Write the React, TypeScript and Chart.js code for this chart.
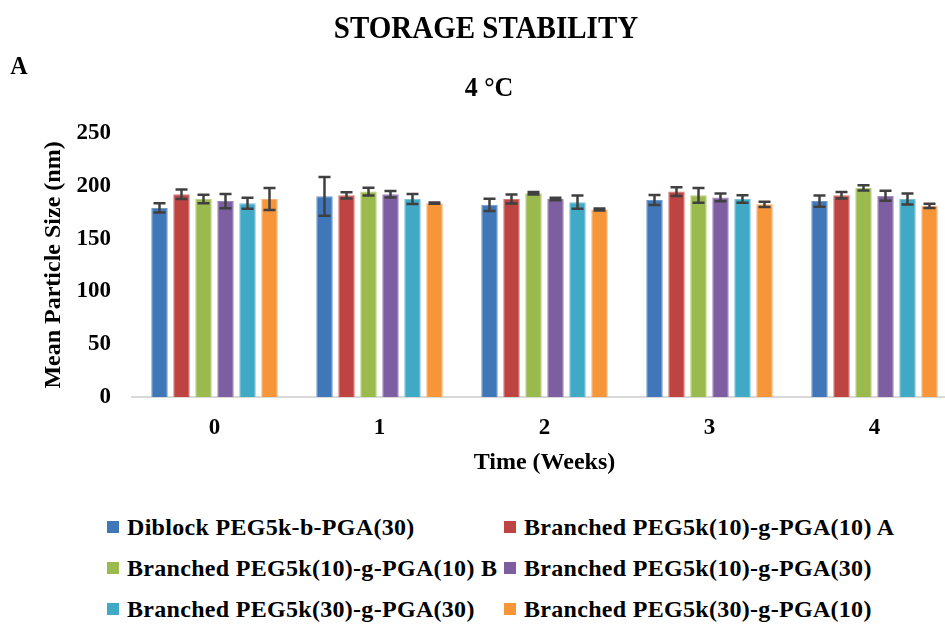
import React, { useEffect, useRef } from "react";
import { Chart, registerables } from "chart.js";

Chart.register(...registerables);

const weeks = ["0", "1", "2", "3", "4"];

const seriesNames = [
  "Diblock PEG5k-b-PGA(30)",
  "Branched PEG5k(10)-g-PGA(10) A",
  "Branched PEG5k(10)-g-PGA(10) B",
  "Branched PEG5k(10)-g-PGA(30)",
  "Branched PEG5k(30)-g-PGA(30)",
  "Branched PEG5k(30)-g-PGA(10)",
];

const diblock30 = [179, 190, 182, 186.5, 185.5];
const branched1010A = [192, 191, 187.5, 194.5, 191];
const branched1010B = [187.5, 194.5, 193, 191, 198];
const branched1030 = [185.5, 192, 187.5, 189, 190.5];
const branched3030 = [183.5, 187.5, 184.5, 187.5, 187.5];
const branched3010 = [187.5, 183.5, 177.5, 182.5, 181];

const diblock30Err = [4.4, 18.4, 5.8, 4.7, 5.3];
const branched1010AErr = [4.5, 3, 4.2, 4.2, 3.1];
const branched1010BErr = [4, 3.6, 1.2, 7, 2.5];
const branched1030Err = [6.8, 3, 1.2, 3.6, 4.7];
const branched3030Err = [5.2, 4.7, 6.3, 3.6, 5.2];
const branched3010Err = [10.4, 0.6, 1, 2.5, 2];

const yTicks = [0, 50, 100, 150, 200, 250];

const values = [diblock30, branched1010A, branched1010B, branched1030, branched3030, branched3010];
const errors = [diblock30Err, branched1010AErr, branched1010BErr, branched1030Err, branched3030Err, branched3010Err];

const colors = ["#4077B9", "#BE4441", "#9BBA4E", "#7D5EA0", "#40A9C6", "#F79539"];
const borders = ["#6F9AD0", "#D67572", "#B7D07F", "#A088BF", "#76C3D8", "#FBB274"];

const FONT = "'Liberation Serif', 'Times New Roman', serif";

const errorBarPlugin = {
  id: "errorBars",
  afterDatasetsDraw(chart: any) {
    const ctx = chart.ctx;
    const yScale = chart.scales.y;
    ctx.save();
    ctx.strokeStyle = "#404040";
    ctx.lineWidth = 2.5;
    chart.data.datasets.forEach((_ds: any, di: number) => {
      const meta = chart.getDatasetMeta(di);
      meta.data.forEach((bar: any, i: number) => {
        const v = values[di][i];
        const e = errors[di][i];
        const yTop = yScale.getPixelForValue(v + e);
        const yBot = yScale.getPixelForValue(v - e);
        const x = bar.x;
        const cap = 6;
        ctx.beginPath();
        ctx.moveTo(x, yTop);
        ctx.lineTo(x, yBot);
        ctx.moveTo(x - cap, yTop);
        ctx.lineTo(x + cap, yTop);
        ctx.moveTo(x - cap, yBot);
        ctx.lineTo(x + cap, yBot);
        ctx.stroke();
      });
    });
    ctx.restore();
  },
};

const textStyle = (left: number, top: number, size: number): React.CSSProperties => ({
  position: "absolute",
  left,
  top,
  transform: "translate(-50%, -50%) scaleY(1.08)",
  fontFamily: FONT,
  fontWeight: "bold",
  fontSize: size,
  lineHeight: 1,
  whiteSpace: "nowrap",
  color: "#000",
});

export default function App() {
  const canvasRef = useRef<HTMLCanvasElement | null>(null);

  useEffect(() => {
    const canvas = canvasRef.current;
    if (!canvas) return;
    const tickFont = { family: FONT, size: 23, weight: "bold" as const };
    const titleFont = { family: FONT, size: 24, weight: "bold" as const };
    const chart = new Chart(canvas, {
      type: "bar",
      data: {
        labels: weeks,
        datasets: seriesNames.map((name, i) => ({
          label: name,
          data: values[i],
          backgroundColor: colors[i],
          borderColor: borders[i],
          borderWidth: 1,
          barPercentage: 0.75,
          categoryPercentage: 0.8,
        })),
      },
      options: {
        responsive: false,
        maintainAspectRatio: false,
        animation: false,
        layout: { padding: { left: 0, right: 43, top: 133, bottom: 0 } },
        plugins: {
          legend: { display: false },
          tooltip: { enabled: false },
          title: { display: false },
        },
        scales: {
          x: {
            grid: { display: false, drawTicks: false },
            border: { display: true, color: "#D9D9D9", width: 2 },
            ticks: { padding: 17, font: tickFont, color: "#000" },
            title: {
              display: true,
              text: "Time (Weeks)",
              font: titleFont,
              color: "#000",
              padding: { top: 0, bottom: 13 },
            },
            afterFit: (s: any) => {
              s.height = 93;
            },
          },
          y: {
            min: 0,
            max: 250,
            afterBuildTicks: (s: any) => {
              s.ticks = yTicks.map((v) => ({ value: v }));
            },
            ticks: { padding: 21, font: tickFont, color: "#000" },
            grid: { display: false, drawTicks: false },
            border: { display: false },
            title: {
              display: true,
              text: "Mean Particle Size (nm)",
              font: titleFont,
              color: "#000",
              padding: { top: 39, bottom: 0 },
            },
            afterFit: (s: any) => {
              s.width = 132;
            },
          },
        },
      },
      plugins: [errorBarPlugin],
    });
    return () => chart.destroy();
  }, []);

  return (
    <div
      style={{
        position: "fixed",
        left: 0,
        top: 0,
        width: 945,
        height: 624,
        overflow: "hidden",
        background: "#fff",
      }}
    >
      <canvas
        ref={canvasRef}
        width={1000}
        height={490}
        style={{ position: "absolute", left: 0, top: 0 }}
      />
      <div style={textStyle(486, 28, 29)}>STORAGE STABILITY</div>
      <div style={textStyle(19, 65, 24)}>A</div>
      <div style={textStyle(489, 87, 26)}>4 °C</div>
      {seriesNames.map((name, i) => {
        const col = i % 2;
        const row = Math.floor(i / 2);
        const sqLeft = col === 0 ? 107 : 504;
        const cy = 527 + row * 41;
        return (
          <React.Fragment key={name}>
            <div
              style={{
                position: "absolute",
                left: sqLeft,
                top: cy - 6,
                width: 12,
                height: 12,
                background: colors[i],
              }}
            />
            <div
              style={{
                position: "absolute",
                left: sqLeft + 20,
                top: cy,
                transform: "translateY(-50%)",
                fontFamily: FONT,
                fontWeight: "bold",
                fontSize: 24,
                letterSpacing: 0.3,
                lineHeight: 1,
                whiteSpace: "nowrap",
                color: "#000",
              }}
            >
              {name}
            </div>
          </React.Fragment>
        );
      })}
    </div>
  );
}
